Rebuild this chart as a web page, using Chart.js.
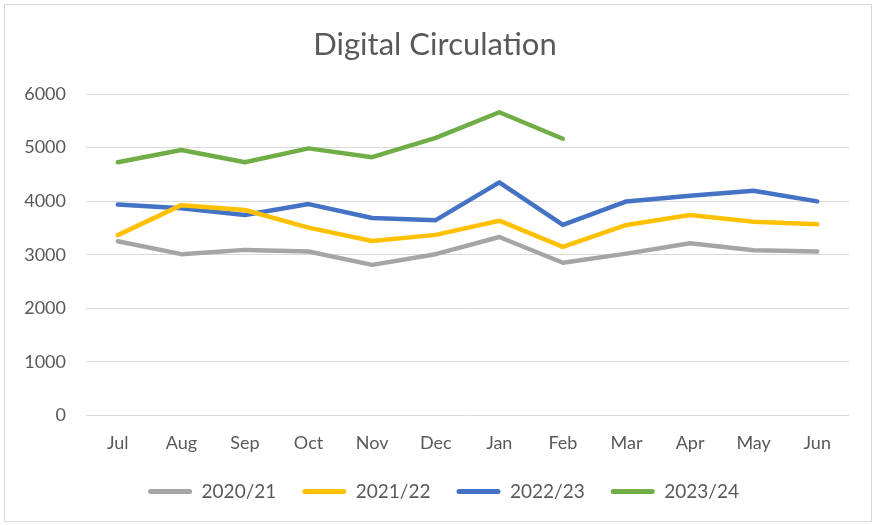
<!DOCTYPE html>
<html>
<head>
<meta charset="utf-8">
<script src="https://cdn.jsdelivr.net/npm/chart.js@4.4.0/dist/chart.umd.min.js"></script>
<style>
html,body{margin:0;padding:0;background:#fff;}
#wrap{width:875px;height:525px;position:relative;}
</style>
</head>
<body>
<div id="wrap"><canvas id="c" width="875" height="525"></canvas></div>
<script>
const months = ["Jul","Aug","Sep","Oct","Nov","Dec","Jan","Feb","Mar","Apr","May","Jun"];
const s2020 = [3250,3010,3090,3060,2810,3010,3330,2850,3020,3215,3085,3060];
const s2021 = [3365,3925,3835,3505,3255,3370,3635,3145,3555,3740,3615,3570];
const s2022 = [3935,3865,3740,3945,3685,3645,4350,3555,3995,4100,4195,3995];
const s2023 = [4725,4955,4725,4985,4820,5180,5660,5165,null,null,null,null];
const seriesNames = ["2020/21","2021/22","2022/23","2023/24"];
const seriesColors = ["#A5A5A5","#FFC000","#4472C4","#70AD47"];
const yTicks = [0,1000,2000,3000,4000,5000,6000];

const FONT = "Lato, 'Open Sans', sans-serif";
const TXT = "#595959";

const framePlugin = {
  id: 'frame',
  afterLayout(chart) {
    const tb = chart.titleBlock;
    if (tb) { tb.left += 10.5; tb.right += 10.5; }
    const lg = chart.legend;
    if (lg) { lg.left += 19; lg.right += 19; }
  },
  beforeDraw(chart) {
    const ctx = chart.ctx;
    ctx.save();
    ctx.fillStyle = '#fff';
    ctx.fillRect(0,0,chart.width,chart.height);
    ctx.strokeStyle = '#d9d9d9';
    ctx.lineWidth = 1;
    ctx.strokeRect(4.5, 4.5, 867, 517);
    ctx.restore();
  }
};

const allSeries = [s2020, s2021, s2022, s2023];
new Chart(document.getElementById('c'), {
  type: 'line',
  data: {
    labels: months,
    datasets: allSeries.map((d, i) => ({
      label: seriesNames[i],
      data: d,
      borderColor: seriesColors[i],
      backgroundColor: seriesColors[i],
      borderWidth: 4.5,
      borderCapStyle: 'round',
      borderJoinStyle: 'round',
      pointRadius: 0,
      tension: 0,
      fill: false
    }))
  },
  options: {
    responsive: false,
    animation: false,
    layout: { padding: { left: 0, right: 26, top: 0, bottom: 14 } },
    plugins: {
      title: {
        display: true,
        text: 'Digital Circulation',
        color: TXT,
        font: { family: FONT, size: 31, weight: 'normal' },
        padding: { top: 26, bottom: 30.8 }
      },
      legend: {
        position: 'bottom',
        labels: {
          color: TXT,
          font: { family: FONT, size: 19 },
          boxWidth: 44,
          boxHeight: 5,
          useBorderRadius: true,
          borderRadius: 2.5,
          padding: 26,
          generateLabels(chart) {
            const items = Chart.defaults.plugins.legend.labels.generateLabels(chart);
            items.forEach(it => { it.lineWidth = 0; });
            return items;
          }
        }
      },
      tooltip: { enabled: false }
    },
    scales: {
      x: {
        offset: true,
        grid: { display: false, drawTicks: false },
        border: { display: false },
        afterFit(scale) { scale.height = 40.6; },
        ticks: { color: TXT, font: { family: FONT, size: 18 }, padding: 17, maxRotation: 0 }
      },
      y: {
        min: 0, max: 6000,
        afterBuildTicks(scale) { scale.ticks = yTicks.map(v => ({ value: v })); },
        afterFit(scale) { scale.width = 86; },
        grid: { color: '#d9d9d9', lineWidth: 1, drawTicks: false },
        border: { display: false },
        ticks: {
          color: TXT, font: { family: FONT, size: 18 }, padding: 20,
          callback: (v) => String(v)
        }
      }
    }
  },
  plugins: [framePlugin]
});
</script>
</body>
</html>
